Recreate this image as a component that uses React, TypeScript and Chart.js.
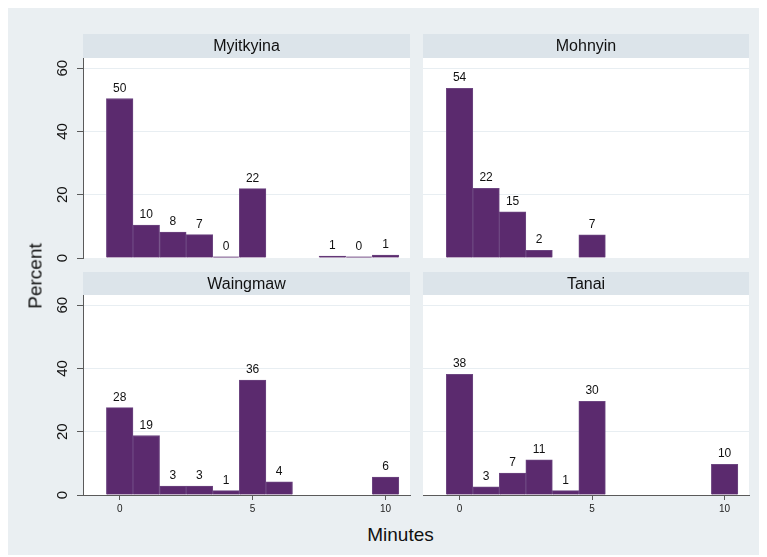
import React, { useEffect, useRef } from "react";
import { Chart, registerables } from "chart.js";

Chart.register(...registerables);

// Minutes (histogram bins of width 1, centred on whole minutes)
const minutes = [0, 1, 2, 3, 4, 5, 6, 7, 8, 9, 10];

// Percent of respondents per bin; null = empty bin
const myitkyina = [50.4, 10.4, 8.2, 7.4, 0.4, 21.9, null, null, 0.6, 0.4, 0.9];
const mohnyin = [53.6, 22.0, 14.6, 2.4, null, 7.3, null, null, null, null, null];
const waingmaw = [27.6, 18.8, 2.8, 2.8, 1.4, 36.3, 4.2, null, null, null, 5.7];
const tanai = [38.1, 2.6, 6.9, 11.1, 1.4, 29.6, null, null, null, null, 9.7];

const xTickValues = [0, 5, 10];
const yTickValues = [0, 20, 40, 60];

const FONT = "'Liberation Sans', Arial, Helvetica, sans-serif";
const BG = "#eaeff2";
const STRIP = "#dce4ea";
const GRID = "#e8eef2";
const AXIS = "#5a5a5a";
const BAR_FILL = "#5b2a6e";
const BAR_EDGE = "#6d4681";

const X_MIN = -1.38;
const X_MAX = 10.92;
const Y_MAX = 63.2;

type PanelProps = {
  title: string;
  values: (number | null)[];
  showY: boolean;
  showX: boolean;
  left: number;
  top: number;
  width: number;
  height: number;
  strip: number;
};

function Panel({ title, values, showY, showX, left, top, width, height, strip }: PanelProps) {
  const ref = useRef<HTMLCanvasElement | null>(null);

  useEffect(() => {
    if (!ref.current) return;
    const points = minutes
      .map((m, i) => ({ x: m, y: values[i] }))
      .filter((p) => p.y !== null) as { x: number; y: number }[];

    const panelPlugin = {
      id: "panelDecor",
      beforeDraw(chart: any) {
        const { ctx, chartArea: a } = chart;
        ctx.save();
        ctx.fillStyle = "#ffffff";
        ctx.fillRect(a.left, a.top, a.right - a.left, a.bottom - a.top);
        ctx.fillStyle = STRIP;
        ctx.fillRect(a.left, a.top - strip, a.right - a.left, strip);
        ctx.fillStyle = "#111";
        ctx.font = `16px ${FONT}`;
        ctx.textAlign = "center";
        ctx.textBaseline = "middle";
        ctx.fillText(title, (a.left + a.right) / 2, a.top - strip / 2 + 1);
        ctx.restore();
      },
      afterDatasetsDraw(chart: any) {
        const { ctx } = chart;
        const meta = chart.getDatasetMeta(0);
        const data = chart.data.datasets[0].data as { x: number; y: number }[];
        ctx.save();
        ctx.fillStyle = "#111";
        ctx.font = `12px ${FONT}`;
        ctx.textAlign = "center";
        ctx.textBaseline = "alphabetic";
        meta.data.forEach((el: any, i: number) => {
          ctx.fillText(String(Math.round(data[i].y)), el.x, el.y - 7);
        });
        ctx.restore();
      },
      afterDraw(chart: any) {
        if (!showY) return;
        const { ctx } = chart;
        const ys = chart.scales.y;
        ctx.save();
        ctx.fillStyle = "#111";
        ctx.font = `15px ${FONT}`;
        ctx.textAlign = "center";
        ctx.textBaseline = "middle";
        yTickValues.forEach((v) => {
          const py = ys.getPixelForValue(v);
          ctx.save();
          ctx.translate(22.5, py);
          ctx.rotate(-Math.PI / 2);
          ctx.fillText(String(v), 0, 0);
          ctx.restore();
        });
        ctx.restore();
      },
    };

    const chart = new Chart(ref.current, {
      type: "bar",
      data: {
        datasets: [
          {
            data: points as any,
            backgroundColor: BAR_FILL,
            borderColor: BAR_EDGE,
            borderWidth: 1,
            barPercentage: 1,
            categoryPercentage: 1,
          },
        ],
      },
      options: {
        responsive: false,
        animation: false,
        events: [],
        layout: { padding: { top: strip, right: 2, bottom: showX ? 0 : 8, left: 0 } },
        plugins: { legend: { display: false }, tooltip: { enabled: false } },
        scales: {
          x: {
            type: "linear",
            display: showX,
            offset: false,
            min: X_MIN,
            max: X_MAX,
            afterBuildTicks: (s: any) => {
              s.ticks = xTickValues.map((v) => ({ value: v }));
            },
            afterFit: (s: any) => {
              s.height = showX ? 22 : 0;
            },
            grid: {
              offset: false,
              drawOnChartArea: false,
              drawTicks: true,
              tickLength: 5,
              tickColor: AXIS,
            },
            border: { display: true, color: AXIS, width: 1 },
            ticks: {
              font: { family: FONT, size: 10 },
              color: "#222",
              padding: 3,
              maxRotation: 0,
              minRotation: 0,
            },
          },
          y: {
            type: "linear",
            display: true,
            min: 0,
            max: Y_MAX,
            afterBuildTicks: (s: any) => {
              s.ticks = yTickValues.map((v) => ({ value: v }));
            },
            afterFit: (s: any) => {
              s.width = showY ? 43 : 0;
            },
            grid: {
              color: (c: any) => (c.tick && c.tick.value === 0 ? "rgba(0,0,0,0)" : GRID),
              drawTicks: showY,
              tickLength: 6,
              tickColor: AXIS,
              lineWidth: 1,
            },
            border: { display: showY, color: AXIS, width: 1 },
            ticks: { display: false },
          },
        },
      },
      plugins: [panelPlugin],
    });
    return () => chart.destroy();
  }, [title, values, showY, showX, strip]);

  return (
    <canvas
      ref={ref}
      width={width}
      height={height}
      style={{ position: "absolute", left, top, width, height }}
    />
  );
}

export default function App() {
  useEffect(() => {
    document.body.style.overflow = "hidden";
  }, []);

  return (
    <div
      style={{
        position: "relative",
        width: 759,
        height: 547,
        background: BG,
        fontFamily: FONT,
        color: "#111",
      }}
    >
      <Panel title="Myitkyina" values={myitkyina} showY showX={false} left={32} top={26} width={372} height={232} strip={24} />
      <Panel title="Mohnyin" values={mohnyin} showY={false} showX={false} left={415} top={26} width={328} height={232} strip={24} />
      <Panel title="Waingmaw" values={waingmaw} showY showX left={32} top={264} width={372} height={245} strip={23} />
      <Panel title="Tanai" values={tanai} showY={false} showX left={415} top={264} width={328} height={245} strip={23} />
      <div
        style={{
          position: "absolute",
          left: 27,
          top: 267.5,
          transform: "translate(-50%, -50%) rotate(-90deg)",
          fontSize: 19,
          lineHeight: 1,
          whiteSpace: "nowrap",
        }}
      >
        Percent
      </div>
      <div
        style={{
          position: "absolute",
          left: 392.5,
          top: 525.5,
          transform: "translate(-50%, -50%)",
          fontSize: 19,
          lineHeight: 1,
          whiteSpace: "nowrap",
        }}
      >
        Minutes
      </div>
    </div>
  );
}
